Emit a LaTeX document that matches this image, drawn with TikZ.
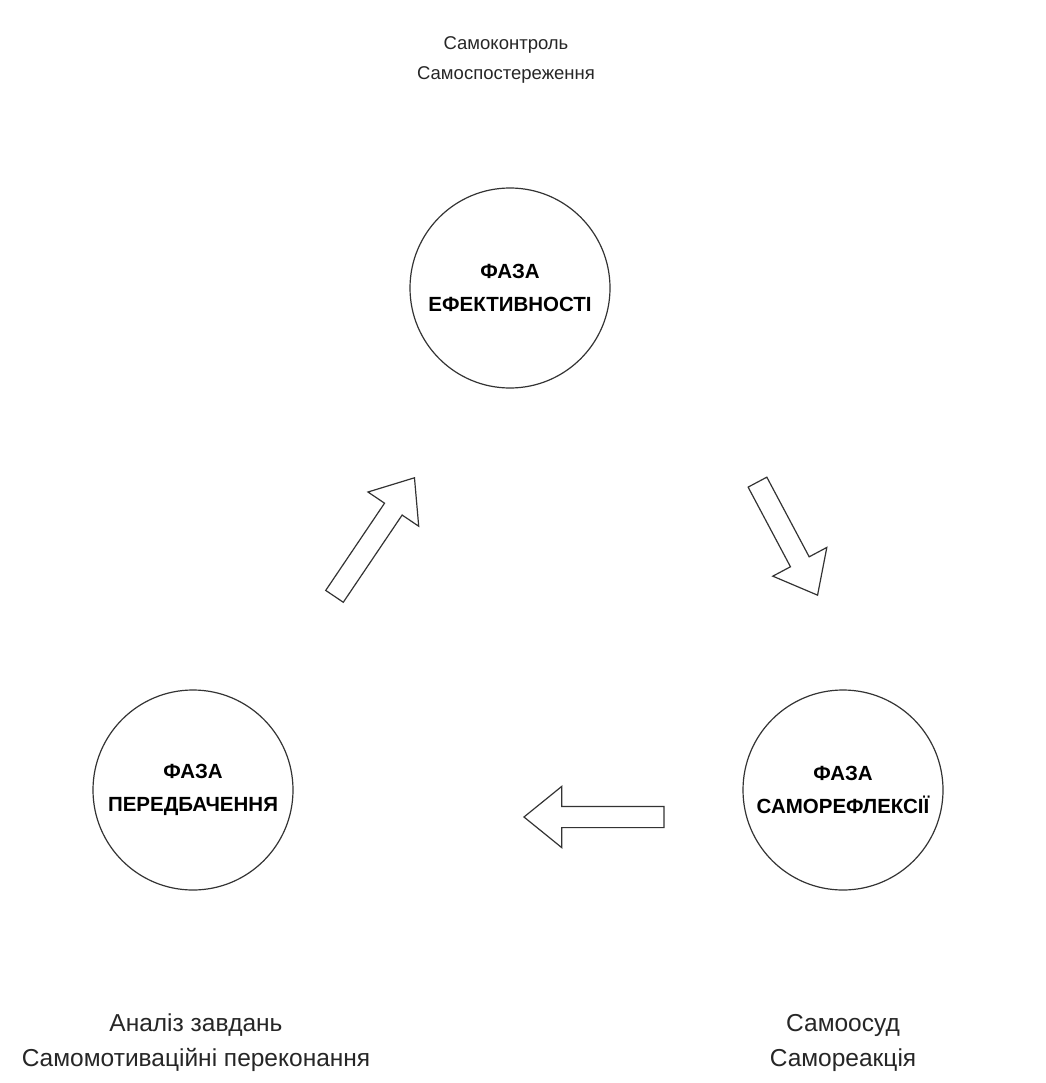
\documentclass[tikz,border=0pt]{standalone}
\usepackage{fontspec}
\setmainfont{Liberation Sans}
\usetikzlibrary{positioning,shapes.arrows}
\tikzset{
	>=latex,
}

\begin{document}
\begin{tikzpicture}[x=1pt,y=-1pt,
		phase/.style={circle, draw=black!80, line width=1.2pt, minimum size=200pt, inner sep=0pt, align=center, font=\fontsize{20.5}{33}\selectfont\bfseries},
		note/.style={align=center, text=black!85, inner sep=0pt},
		noteup/.style={note, font=\fontsize{18.5}{30}\selectfont},
		notedown/.style={note, font=\fontsize{24.5}{35}\selectfont},
		flow/.style={single arrow, draw=black!80, line width=1.2pt, fill=white, inner sep=10pt, anchor=tip, single arrow head extend=20pt, single arrow tip angle=78, single arrow head indent=0pt},
	]
		\useasboundingbox (0,0) rectangle (1045,1083);
		\node(eff)[phase] at (510,288) {ФАЗА\\ЕФЕКТИВНОСТІ};
		\node(fore)[phase] at (193,790) {ФАЗА\\ПЕРЕДБАЧЕННЯ};
		\node(refl)[phase] at (843,790) {ФАЗА\\САМОРЕФЛЕКСІЇ};
		\node(effnote)[noteup] at (506,60) {Самоконтроль\\Самоспостереження};
		\node(forenote)[notedown] at (196,1043) {Аналіз завдань\\Самомотиваційні переконання};
		\node(reflnote)[notedown] at (843,1043) {Самоосуд\\Самореакція};
		\node(up)[flow, minimum height=143pt, rotate=56] at (415,477) {};
		\node(down)[flow, minimum height=128pt, rotate=-62] at (818,596) {};
		\node(back)[flow, minimum height=140pt, rotate=180] at (523,817) {};
	\end{tikzpicture}
\end{document}
